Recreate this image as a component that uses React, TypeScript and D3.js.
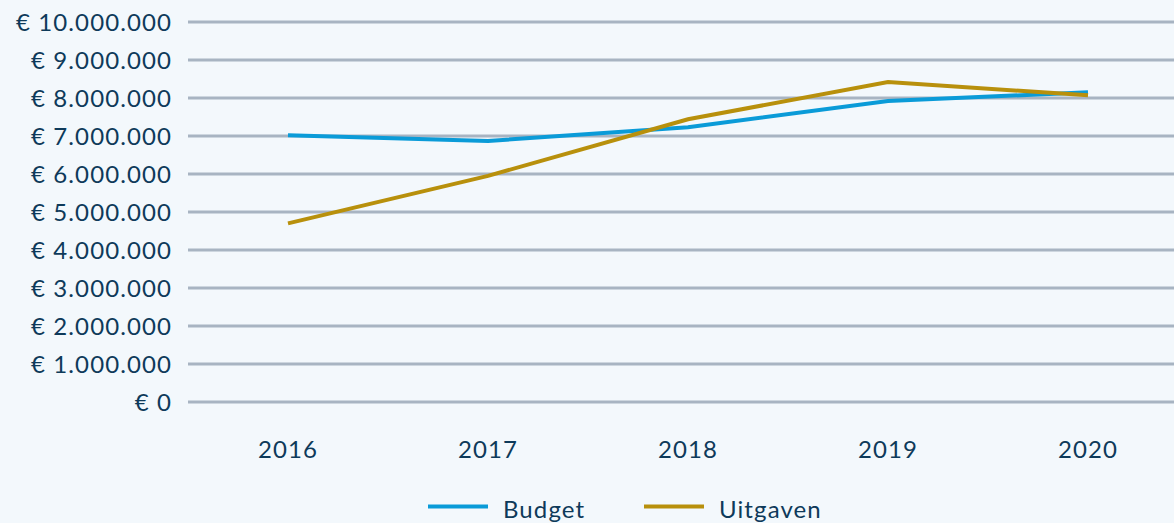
import React, { useEffect, useRef } from 'react';
import * as d3 from 'd3';

const years = ['2016', '2017', '2018', '2019', '2020'];
const budget = [7020000, 6870000, 7230000, 7920000, 8150000];
const uitgaven = [4700000, 5950000, 7440000, 8420000, 8070000];
const yTicks = [0, 1000000, 2000000, 3000000, 4000000, 5000000, 6000000, 7000000, 8000000, 9000000, 10000000];
const seriesNames = ['Budget', 'Uitgaven'];
const colors = ['#0a9bd8', '#b8900c'];

const W = 1174;
const H = 523;
const font = 'Lato, "Open Sans", sans-serif';
const textColor = '#0e3a5a';

function fmt(v: number) {
  const s = Math.round(v).toString().replace(/\B(?=(\d{3})+(?!\d))/g, '.');
  return '€ ' + s;
}

export default function App() {
  const ref = useRef<SVGSVGElement>(null);

  useEffect(() => {
    const svg = d3.select(ref.current);
    svg.selectAll('*').remove();

    svg.append('rect').attr('width', W).attr('height', H).attr('fill', '#f3f8fc');

    const x = d3.scalePoint<string>().domain(years).range([188, 1188]).padding(0.5);
    const y = d3.scaleLinear().domain([0, 10000000]).range([402, 22]);

    const grid = svg.append('g');
    grid.selectAll('line').data(yTicks).enter().append('line')
      .attr('x1', 188).attr('x2', W)
      .attr('y1', (d) => y(d)).attr('y2', (d) => y(d))
      .attr('stroke', '#a8b4c2').attr('stroke-width', 3);

    const txt = (sel: any) => sel
      .style('font-family', font).style('font-size', '24px')
      .style('letter-spacing', '1.1px').attr('fill', textColor);

    svg.append('g').selectAll('text').data(yTicks).enter().append('text')
      .attr('x', 172).attr('y', (d) => y(d))
      .attr('dy', '0.36em')
      .attr('text-anchor', 'end')
      .call(txt)
      .text((d) => fmt(d));

    svg.append('g').selectAll('text').data(years).enter().append('text')
      .attr('x', (d) => x(d)!).attr('y', 458)
      .attr('text-anchor', 'middle')
      .call(txt)
      .text((d) => d);

    const line = d3.line<number>().x((_, i) => x(years[i])!).y((d) => y(d));
    [budget, uitgaven].forEach((s, i) => {
      svg.append('path').datum(s)
        .attr('d', line)
        .attr('fill', 'none')
        .attr('stroke', colors[i]).attr('stroke-width', 4);
    });

    const legendX = [428, 644];
    seriesNames.forEach((n, i) => {
      svg.append('line')
        .attr('x1', legendX[i]).attr('x2', legendX[i] + 60)
        .attr('y1', 506.5).attr('y2', 506.5)
        .attr('stroke', colors[i]).attr('stroke-width', 4);
      svg.append('text')
        .attr('x', legendX[i] + 75).attr('y', 518)
        .call(txt)
        .text(n);
    });
  }, []);

  return (
    <svg ref={ref} width={W} height={H}
      style={{ position: 'absolute', left: 0, top: 0, display: 'block' }} />
  );
}
